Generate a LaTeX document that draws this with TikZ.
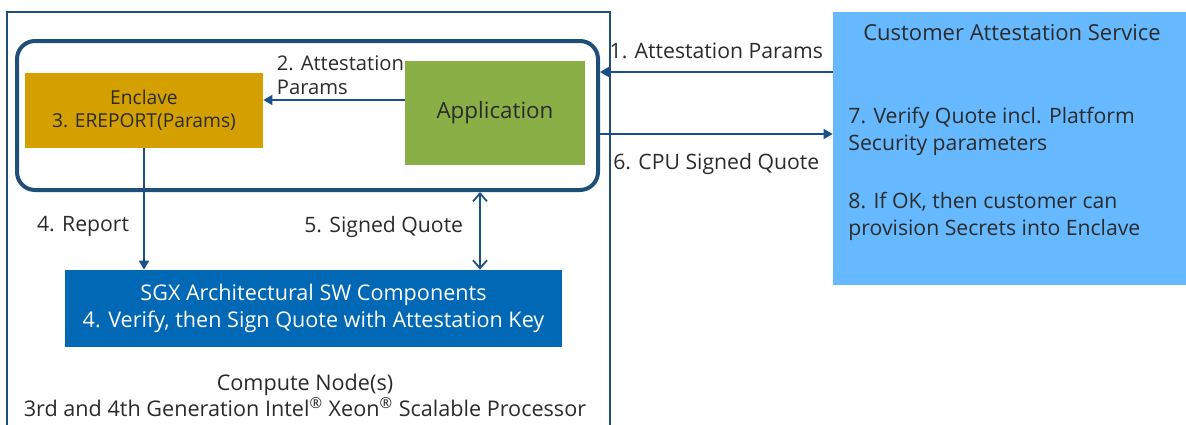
\documentclass[tikz,border=0pt]{standalone}
\usepackage{fontspec}
\setmainfont{Open Sans}
\usetikzlibrary{arrows.meta}
\definecolor{navy}{HTML}{1F4E79}
\definecolor{linkblue}{HTML}{1B4F8A}
\definecolor{enclavegold}{HTML}{D4A000}
\definecolor{appgreen}{HTML}{8AAF47}
\definecolor{sgxblue}{HTML}{0068B5}
\definecolor{casblue}{HTML}{66B8FF}
\definecolor{inkgrey}{HTML}{2B2B2B}

\begin{document}
\begin{tikzpicture}[
  x=0.5pt, y=-0.5pt,
  every node/.style={
    font=\fontsize{10.6}{13}\selectfont, text=inkgrey, inner sep=0pt,
  },
  block/.style={
    minimum width=#1, align=center
  },
  link/.style={
    draw=linkblue, line width=0.9pt, -{Triangle[length=4.5pt,width=5pt]}
  },
  twoway/.style={
    draw=linkblue, line width=0.9pt,
    {Straight Barb[length=4pt,width=7pt]}-{Straight Barb[length=4pt,width=7pt]}
  }
  ]
  \useasboundingbox (0,0) rectangle (1186,424);
  \draw[navy, line width=0.8pt] (7,430) -- (7,12) -- (610,12) -- (610,430);

  \node[draw=navy, line width=2pt, rounded corners=9pt, minimum width=290.5pt,
    minimum height=74.5pt] (tee) at (307.5,115.5) {};
  \node[fill=enclavegold, block=119pt, minimum height=37.5pt,
    font=\fontsize{9.6}{11.5}\selectfont] (enclave) at (144,110.5)
    {Enclave\\3. EREPORT(Params)};
  \node[fill=appgreen, block=90pt, minimum height=52pt,
    font=\fontsize{11.2}{13}\selectfont] (app) at (495,113) {Application};
  \node[fill=sgxblue, block=248.5pt, minimum height=38.5pt, text=white,
    font=\fontsize{10.8}{13.5}\selectfont] (sgx) at (313.5,308.5)
    {SGX Architectural SW Components\\4. Verify, then Sign Quote with Attestation Key};
  \node[fill=casblue, minimum width=176.5pt, minimum height=136.5pt] (cas)
    at (1009.5,148.5) {};

  \node[anchor=north, font=\fontsize{11}{13}\selectfont] (castitle) at (1012,24)
    {Customer Attestation Service};
  \node[anchor=north west, align=left, font=\fontsize{10.6}{13.5}\selectfont]
    (verify) at (848,107) {7. Verify Quote incl. Platform\\Security parameters};
  \node[anchor=north west, align=left, font=\fontsize{10.6}{13.5}\selectfont]
    (provision) at (848,192) {8. If OK, then customer can\\provision Secrets into Enclave};
  \node[align=center, font=\fontsize{10.8}{13}\selectfont] (cnode) at (305,395)
    {Compute Node(s)\\3rd and 4th Generation Intel\textsuperscript{\textregistered}
     Xeon\textsuperscript{\textregistered} Scalable Processor};

  \draw[link] (cas.west |- 0,72) -- (tee.east |- 0,72)
    node[pos=0.5, above=6pt] {1. Attestation Params};
  \draw[link] (app.west |- 0,100) -- (enclave.east |- 0,100)
    node[anchor=south west, align=left, font=\fontsize{10.1}{12}\selectfont]
    at (276,96) {2. Attestation\\Params};
  \draw[link] (enclave.south) -- (enclave.south |- sgx.north)
    node[pos=0.64, left=7pt] {4. Report};
  \draw[twoway] (tee.south -| 480,0) -- (sgx.north -| 480,0)
    node[pos=0.45, left=8pt] {5. Signed Quote};
  \draw[link] (tee.east |- 0,134) -- (cas.west |- 0,134)
    node[pos=0.5, below=9pt] {6. CPU Signed Quote};
\end{tikzpicture}
\end{document}
